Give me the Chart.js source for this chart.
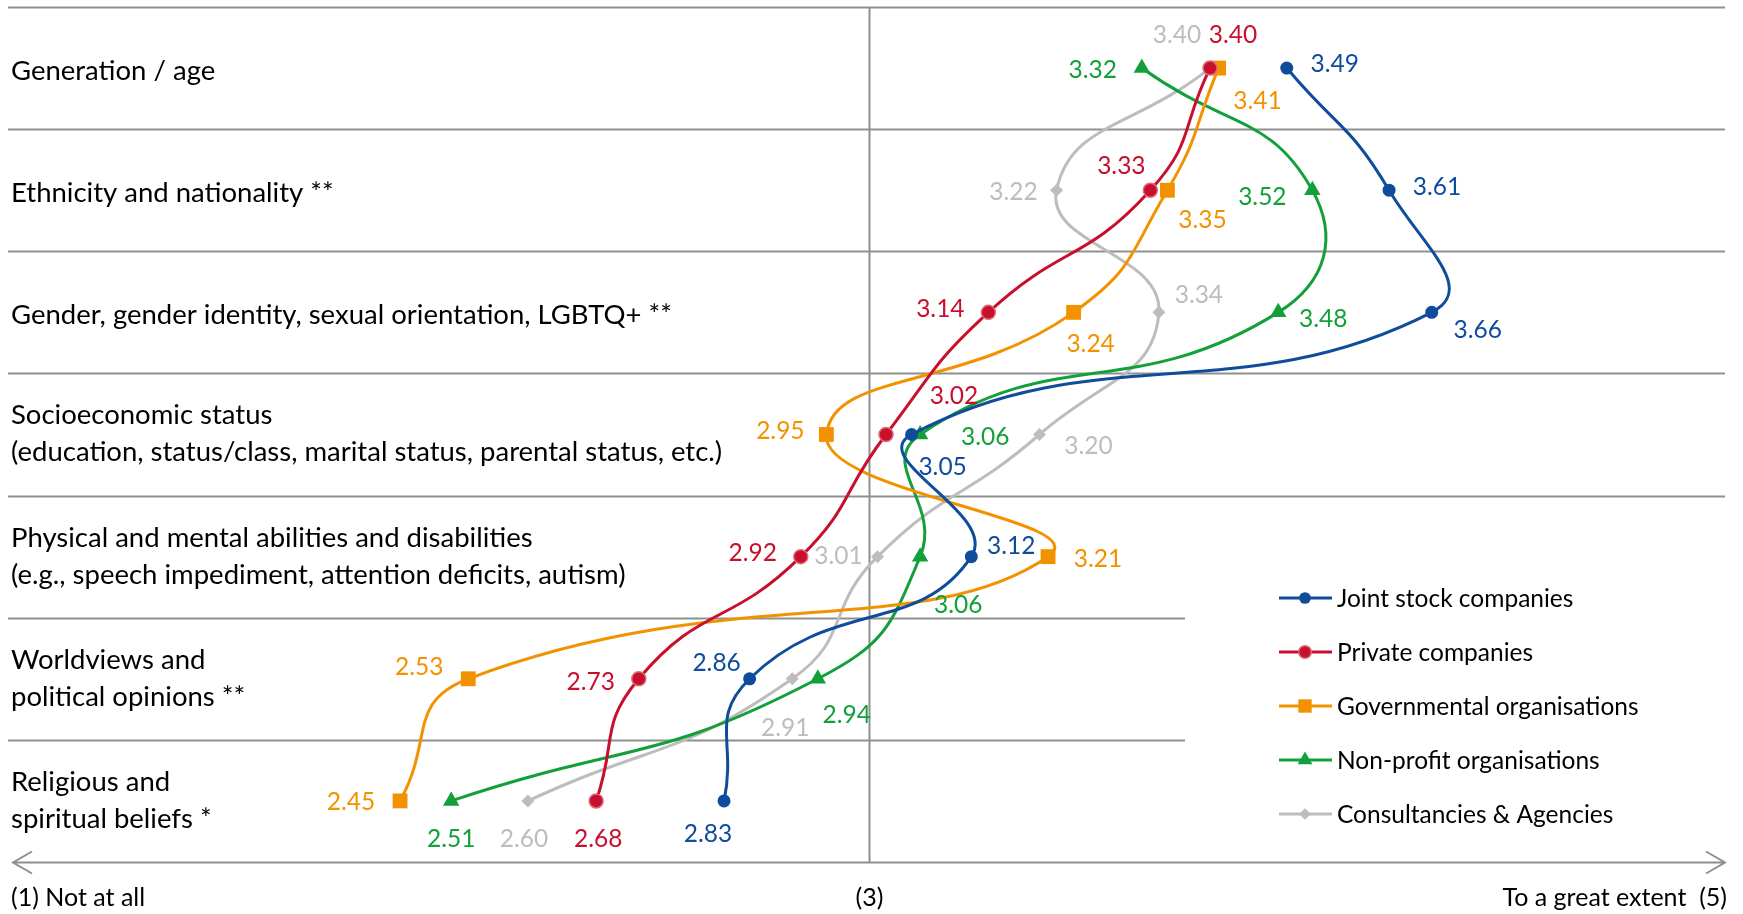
<!DOCTYPE html>
<html>
<head>
<meta charset="utf-8">
<script src="https://cdn.jsdelivr.net/npm/chart.js@4.4.1/dist/chart.umd.min.js"></script>
<style>
  html, body { margin: 0; padding: 0; background: #fff; }
  #wrap { width: 1743px; height: 914px; position: relative; }
</style>
</head>
<body>
<div id="wrap"><canvas id="chart"></canvas></div>
<script>
// rows, top to bottom
const categories = [
  ['Generation / age'],
  ['Ethnicity and nationality **'],
  ['Gender, gender identity, sexual orientation, LGBTQ+ **'],
  ['Socioeconomic status', '(education, status/class, marital status, parental status, etc.)'],
  ['Physical and mental abilities and disabilities', '(e.g., speech impediment, attention deficits, autism)'],
  ['Worldviews and', 'political opinions **'],
  ['Religious and', 'spiritual beliefs *']
];

const seriesNames = [
  'Joint stock companies',
  'Private companies',
  'Governmental organisations',
  'Non-profit organisations',
  'Consultancies & Agencies'
];

const jointStock  = [3.49, 3.61, 3.66, 3.05, 3.12, 2.86, 2.83];
const privateCo   = [3.40, 3.33, 3.14, 3.02, 2.92, 2.73, 2.68];
const government  = [3.41, 3.35, 3.24, 2.95, 3.21, 2.53, 2.45];
const nonProfit   = [3.32, 3.52, 3.48, 3.06, 3.06, 2.94, 2.51];
const consultancy = [3.40, 3.22, 3.34, 3.20, 3.01, 2.91, 2.60];

const axisLabels = ['(1) Not at all', '(3)', 'To a great extent  (5)'];

// styling
const colors       = ['#0f4c9c', '#c8102e', '#f39200', '#13a03a', '#bdbdbd'];
const borderColors = ['#0f4c9c', '#dc6a78', '#f39200', '#13a03a', '#bdbdbd'];
const pointStyles  = ['circle', 'circle', 'rect', 'triangle', 'rectRot'];
const pointRadii   = [6.5, 7, 10.5, 9.5, 6.5];

// label offsets from the marker, px
const labelOffsets = [
  [[48, -4], [48, -3], [46, 18], [31, 33], [40, -11], [-33, -16], [-16, 33]],
  [[23, -33], [-29, -24], [-48, -3], [68, -38], [-48, -4], [-48, 3], [2, 38]],
  [[39, 33], [35, 30], [17, 32], [-46, -3], [50, 2], [-49, -12], [-49, 1]],
  [[-49, 2], [-50, 7], [45, 7], [65, 3], [38, 48], [29, 36], [0, 38]],
  [[-33, -33], [-43, 2], [40, -17], [49, 12], [-39, -1], [-7, 49], [-4, 38]]
];

const allSeries = [jointStock, privateCo, government, nonProfit, consultancy];

const FONT = 'Lato, "Open Sans", sans-serif';
const GRID = '#8f8f8f';

// same geometry as Chart.js point styles
function drawMarker(ctx, style, r, x, y, fill, stroke) {
  ctx.save();
  ctx.fillStyle = fill;
  ctx.beginPath();
  if (style === 'circle') {
    ctx.arc(x, y, r, 0, Math.PI * 2);
  } else if (style === 'rect') {
    const s = r * Math.SQRT1_2;
    ctx.rect(x - s, y - s, s * 2, s * 2);
  } else if (style === 'triangle') {
    let a = 0;
    ctx.moveTo(x + Math.sin(a) * r, y - Math.cos(a) * r);
    a += Math.PI * 2 / 3;
    ctx.lineTo(x + Math.sin(a) * r, y - Math.cos(a) * r);
    a += Math.PI * 2 / 3;
    ctx.lineTo(x + Math.sin(a) * r, y - Math.cos(a) * r);
    ctx.closePath();
  } else {
    ctx.moveTo(x, y - r);
    ctx.lineTo(x + r, y);
    ctx.lineTo(x, y + r);
    ctx.lineTo(x - r, y);
    ctx.closePath();
  }
  ctx.fill();
  if (stroke && stroke !== fill) {
    ctx.strokeStyle = stroke;
    ctx.lineWidth = 1.5;
    ctx.stroke();
  }
  ctx.restore();
}

const backdrop = {
  id: 'backdrop',
  beforeDatasetsDraw(chart) {
    const { ctx, scales: { x, y } } = chart;
    ctx.save();
    ctx.strokeStyle = GRID;
    ctx.lineWidth = 2;

    // row separators
    for (let i = 0; i < categories.length; i++) {
      const py = Math.round(y.getPixelForValue(i - 0.5)) + 0.5;
      const right = i >= 5 ? 1185 : 1725;
      ctx.beginPath();
      ctx.moveTo(8, py);
      ctx.lineTo(right, py);
      ctx.stroke();
    }

    // centre line at (3)
    const cx = Math.round(x.getPixelForValue(3)) + 0.5;
    const yTop = y.getPixelForValue(-0.5);
    const yBot = y.getPixelForValue(6.5);
    ctx.beginPath();
    ctx.moveTo(cx, yTop);
    ctx.lineTo(cx, yBot);
    ctx.stroke();

    // bottom double arrow
    const ay = Math.round(yBot) + 0.5;
    ctx.beginPath();
    ctx.moveTo(13, ay);
    ctx.lineTo(1725, ay);
    ctx.moveTo(32, ay - 11);
    ctx.lineTo(13, ay);
    ctx.lineTo(32, ay + 11);
    ctx.moveTo(1706, ay - 11);
    ctx.lineTo(1725, ay);
    ctx.lineTo(1706, ay + 11);
    ctx.stroke();

    // category labels
    ctx.fillStyle = '#000';
    ctx.font = '27.5px ' + FONT;
    ctx.textAlign = 'left';
    ctx.textBaseline = 'middle';
    categories.forEach((lines, i) => {
      const py = y.getPixelForValue(i);
      if (lines.length === 1) {
        ctx.fillText(lines[0], 11, py + 3);
      } else {
        ctx.fillText(lines[0], 11, py - 19);
        ctx.fillText(lines[1], 11, py + 18);
      }
    });

    // axis end labels
    ctx.font = '25px ' + FONT;
    ctx.fillText(axisLabels[0], 11, 898);
    ctx.textAlign = 'center';
    ctx.fillText(axisLabels[1], cx, 898);
    ctx.textAlign = 'right';
    ctx.fillText(axisLabels[2], 1727, 898);
    ctx.restore();
  },
  afterDatasetsDraw(chart) {
    const { ctx } = chart;
    ctx.save();
    ctx.font = '24.5px ' + FONT;
    ctx.textAlign = 'center';
    ctx.textBaseline = 'middle';
    chart.data.datasets.forEach((ds, di) => {
      const meta = chart.getDatasetMeta(di);
      ctx.fillStyle = colors[di];
      meta.data.forEach((pt, i) => {
        const [dx, dy] = labelOffsets[di][i];
        ctx.fillText(allSeries[di][i].toFixed(2), pt.x + dx, pt.y + dy);
      });
    });

    // legend
    ctx.textAlign = 'left';
    ctx.font = '24.5px ' + FONT;
    seriesNames.forEach((name, i) => {
      const ly = 598 + i * 54;
      ctx.strokeStyle = colors[i];
      ctx.lineWidth = 3;
      ctx.beginPath();
      ctx.moveTo(1279, ly);
      ctx.lineTo(1332, ly);
      ctx.stroke();
      drawMarker(ctx, pointStyles[i], pointRadii[i] * 0.9, 1305, ly, colors[i], borderColors[i]);
      ctx.fillStyle = '#000';
      ctx.fillText(name, 1337, ly + 1);
    });
    ctx.restore();
  }
};

new Chart(document.getElementById('chart'), {
  type: 'line',
  data: {
    datasets: allSeries.map((vals, di) => ({
      label: seriesNames[di],
      data: vals.map((v, i) => ({ x: v, y: i })),
      borderColor: colors[di],
      backgroundColor: colors[di],
      borderWidth: 3,
      pointStyle: pointStyles[di],
      pointRadius: pointRadii[di],
      pointHoverRadius: pointRadii[di],
      pointBorderColor: borderColors[di],
      pointBorderWidth: di === 1 ? 1.5 : 0,
      tension: 0.5,
      fill: false
    }))
  },
  options: {
    responsive: true,
    maintainAspectRatio: false,
    animation: false,
    layout: { autoPadding: false, padding: { top: 7, bottom: 52, left: 0, right: 0 } },
    scales: {
      x: { type: 'linear', min: 1.9808, max: 4.0251, display: false },
      y: { type: 'linear', min: -0.5, max: 6.5, reverse: true, display: false }
    },
    plugins: {
      legend: { display: false },
      tooltip: { enabled: false }
    }
  },
  plugins: [backdrop]
});
</script>
</body>
</html>
